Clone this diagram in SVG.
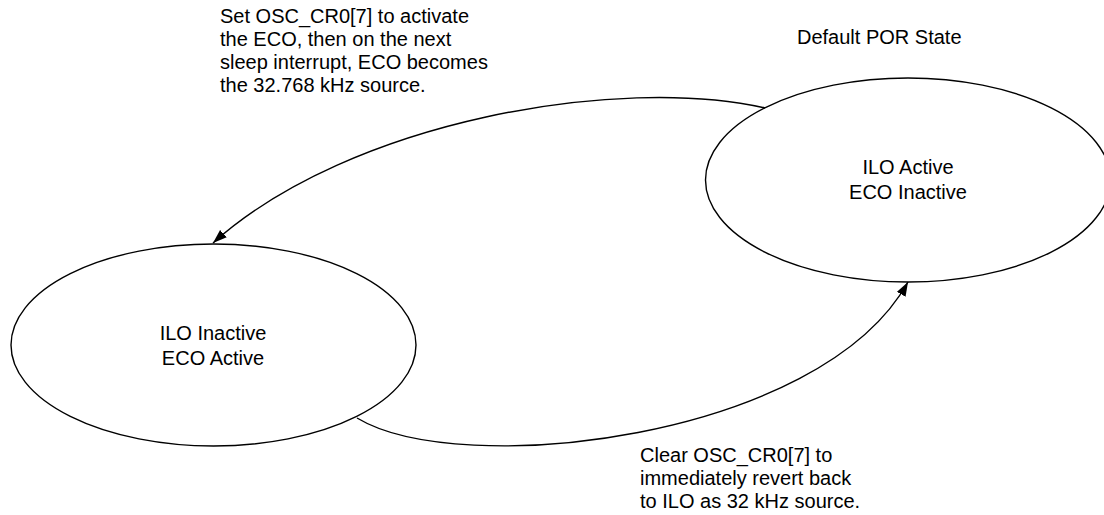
<svg xmlns="http://www.w3.org/2000/svg" width="1104" height="515" viewBox="0 0 1104 515">
<style>
.state{fill:#fff;stroke:#000;stroke-width:1.4}
.conn{fill:none;stroke:#000;stroke-width:1.4}
text{font-family:"Liberation Sans",Arial,Helvetica,sans-serif;font-size:20px;fill:#000}
.c{text-anchor:middle}
</style>
<defs>
<marker id="arrow" markerUnits="userSpaceOnUse" markerWidth="16" markerHeight="12" refX="14" refY="5" orient="auto">
<path d="M0,0 L14,5 L0,10 z" fill="#000"/>
</marker>
</defs>
<rect width="1104" height="515" fill="#fff"/>
<g id="node-eco-active">
<ellipse class="state" cx="213.5" cy="345" rx="202.5" ry="101"/>
<text class="c" x="213" y="340">ILO Inactive</text>
<text class="c" x="213" y="365">ECO Active</text>
</g>
<g id="node-ilo-active">
<ellipse class="state" cx="908" cy="180" rx="202.5" ry="102"/>
<text class="c" x="908" y="174">ILO Active</text>
<text class="c" x="908" y="199">ECO Inactive</text>
</g>
<g id="label-por">
<text x="797" y="44">Default POR State</text>
</g>
<g id="connectors">
<path class="conn" d="M765,108 C620,75 350,120 213,243" marker-end="url(#arrow)"/>
<path class="conn" d="M357,418 C460,480 820,440 908,282" marker-end="url(#arrow)"/>
</g>
<g id="label-set">
<text x="220" y="23">Set OSC_CR0[7] to activate</text>
<text x="220" y="46">the ECO, then on the next</text>
<text x="220" y="69">sleep interrupt, ECO becomes</text>
<text x="220" y="92">the 32.768 kHz source.</text>
</g>
<g id="label-clear">
<text x="640" y="462">Clear OSC_CR0[7] to</text>
<text x="640" y="485">immediately revert back</text>
<text x="640" y="508">to ILO as 32 kHz source.</text>
</g>
</svg>
